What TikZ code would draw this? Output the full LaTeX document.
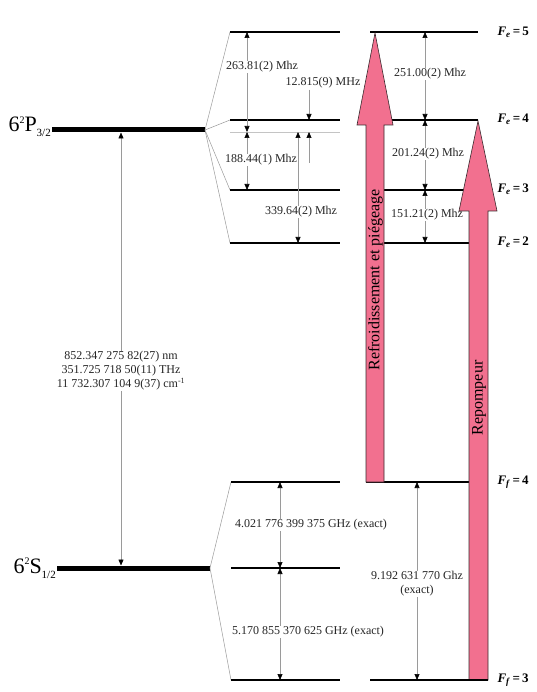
\documentclass[tikz,border=0pt]{standalone}
\usepackage{fontspec}
\setmainfont{Liberation Serif}
\usetikzlibrary{arrows.meta,calc,positioning}
\definecolor{CSpink}{HTML}{F2708F}
\definecolor{CSink}{HTML}{3A2A2E}
\definecolor{CSgray}{HTML}{9A9A9A}
\definecolor{CSrule}{HTML}{C4C4C4}
\newcommand{\Flev}[2]{\textbf{\textit{F}\textsubscript{\textit{#1}}\,=\,#2}}
\newcommand{\termlabel}[3]{#1\raisebox{8.5pt}{\fontsize{10}{10}\selectfont 2}#2%
  \raisebox{-5pt}{\fontsize{11}{11}\selectfont #3}}

\begin{document}
\begin{tikzpicture}[
  x=1pt,y=-1pt,
  font=\fontsize{12}{14}\selectfont,
  line cap=butt,line join=miter,
  >={Triangle[length=6pt,width=5pt,color=black]},
  mainlevel/.style={draw=black,line width=5pt},
  level/.style={draw=black,line width=2pt},
  fan/.style={draw=CSgray,line width=0.5pt},
  centroid/.style={draw=CSrule,line width=0.8pt},
  gap/.style={draw=CSgray,line width=0.6pt,<->},
  oneway/.style={draw=CSgray,line width=0.6pt,->},
  val/.style={fill=white,inner sep=1pt,text=black!85},
  term/.style={font=\fontsize{22}{24}\selectfont},
  flabel/.style={font=\fontsize{13}{14}\selectfont,anchor=west},
  beam/.style={fill=CSpink,draw=CSink,line width=0.6pt},
  beamtext/.style={font=\fontsize{16}{18}\selectfont,rotate=90,inner sep=0pt}
]
\useasboundingbox (0,0) rectangle (536,692);

% Fine structure: the two thick terms and their labels.
\coordinate (Pw) at (52,130); \coordinate (Pe) at (205,130);
\coordinate (Sw) at (57,568); \coordinate (Se) at (210,568);
\draw[mainlevel] (Pw) -- (Pe);
\draw[mainlevel] (Sw) -- (Se);
\node[term,anchor=base east,inner sep=0pt] (termP) at (51,132) {\termlabel{6}{P}{3/2}};
\node[term,anchor=base east,inner sep=0pt] (termS) at (56,573) {\termlabel{6}{S}{1/2}};

% D2 line between the centres of gravity.
\coordinate (ax0) at (121,0);
\draw[gap,shorten <=2.5pt,shorten >=2.5pt] (ax0 |- Pw) -- (ax0 |- Sw);
\node[val,align=center] (dtwo) at (121,371)
  {852.347 275 82(27) nm\\351.725 718 50(11) THz\\11 732.307 104 9(37) cm\textsuperscript{-1}};

% Hyperfine levels of 6P, fanned out of the term.
\coordinate (pwc) at (230,132); \coordinate (pec) at (340,132);
\draw[centroid] (pwc) -- (pec);
\foreach \n/\y in {5/32,4/120,3/190,2/243}{
  \coordinate (pw\n) at (230,\y); \coordinate (pe\n) at (340,\y);
  \coordinate (rw\n) at (370,\y); \coordinate (re\n) at (478,\y);
  \draw[fan] (Pe) -- (pw\n);
  \draw[level] (pw\n) -- (pe\n);
  \draw[level] (rw\n) -- (re\n);
}

% Hyperfine levels of 6S.
\coordinate (swc) at (231,568); \coordinate (sec) at (340,568);
\coordinate (sw4) at (231,482); \coordinate (se4) at (340,482);
\coordinate (sw3) at (231,680); \coordinate (se3) at (340,680);
\draw[fan] (Se) -- (sw4);
\draw[fan] (Se) -- (sw3);
\draw[level] (sw4) -- (se4);
\draw[level] (swc) -- (sec);
\draw[level] (sw3) -- (se3);
\coordinate (rs4w) at (366,482); \coordinate (rs4e) at (478,482);
\coordinate (rs3w) at (370,680); \coordinate (rs3e) at (488,680);
\draw[level] (rs4w) -- (rs4e);

% Splittings from the centre of gravity (6P).
\coordinate (ax1) at (247,0);
\coordinate (ax2) at (309,0);
\coordinate (ax3) at (298,0);
\draw[gap] (ax1 |- pw5) -- (ax1 |- pwc);
\draw[gap] (ax1 |- pwc) -- (ax1 |- pw3);
\draw[gap] (ax3 |- pwc) -- (ax3 |- pw2);
\node[val] (t263) at (262,67) {263.81(2) Mhz};
\node[val] (t188) at (261,160) {188.44(1) Mhz};
\node[val] (t339) at (301,212) {339.64(2) Mhz};
\node[val] (t128) at (323,83) {12.815(9) MHz};
\coordinate (up128) at (309,163);
\draw[oneway] (t128.south -| ax2) -- (ax2 |- pw4);
\draw[oneway] (up128) -- (ax2 |- pwc);

% Splittings between neighbours (6P, right column).
\coordinate (ax4) at (425,0);
\draw[gap] (ax4 |- rw5) -- (ax4 |- rw4);
\draw[gap] (ax4 |- rw4) -- (ax4 |- rw3);
\draw[gap] (ax4 |- rw3) -- (ax4 |- rw2);
\node[val] (t251) at (430,74) {251.00(2) Mhz};
\node[val] (t201) at (428,154) {201.24(2) Mhz};
\node[val] (t151) at (427,215) {151.21(2) Mhz};

% Ground state splittings.
\coordinate (ax5) at (280,0);
\coordinate (ax6) at (417,0);
\draw[gap] (ax5 |- sw4) -- (ax5 |- swc);
\draw[gap] (ax5 |- swc) -- (ax5 |- sw3);
\draw[gap] (ax6 |- rs4w) -- (ax6 |- rs3w);
\node[val] (t4021) at (311,525) {4.021 776 399 375 GHz (exact)};
\node[val] (t5170) at (308,632) {5.170 855 370 625 GHz (exact)};
\node[val,align=center] (t9192) at (417,584) {9.192 631 770 Ghz\\(exact)};

% Laser beams.
\draw[beam] (366,482) -- (366,125) -- (357,125) -- (375,33) -- (393,125)
  -- (384,125) -- (384,482) -- cycle;
\node[beamtext] (cool) at (375.5,280) {Refroidissement et piégeage};
\draw[beam] (469,680) -- (469,211) -- (459,211) -- (478,121) -- (497,211)
  -- (488,211) -- (488,680) -- cycle;
\node[beamtext] (repump) at (479,398) {Repompeur};
\draw[level] (rs3w) -- (rs3e);

% Quantum numbers.
\node[flabel] (fe5) at (494,32) {\Flev{e}{5}};
\node[flabel] (fe4) at (494,119) {\Flev{e}{4}};
\node[flabel] (fe3) at (494,189) {\Flev{e}{3}};
\node[flabel] (fe2) at (494,242) {\Flev{e}{2}};
\node[flabel] (ff4) at (494,482) {\Flev{f}{4}};
\node[flabel] (ff3) at (494,680) {\Flev{f}{3}};

\end{tikzpicture}
\end{document}
